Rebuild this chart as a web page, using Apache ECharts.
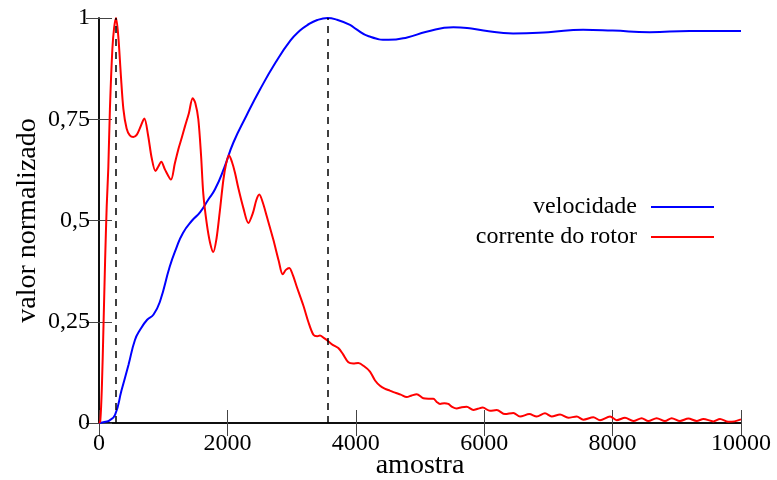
<!DOCTYPE html>
<html>
<head>
<meta charset="utf-8">
<script src="https://cdn.jsdelivr.net/npm/echarts@6/dist/echarts.min.js"></script>
<style>
  html, body { margin: 0; padding: 0; background: #fff; }
  #chart { width: 777px; height: 480px; }
</style>
</head>
<body>
<div id="chart"></div>
<script>
// Speed response (normalised) against sample index
const velSample = [0, 100, 160, 250, 350, 460, 560, 640, 750, 850, 950, 1100, 1200, 1310, 1450, 1573, 1703, 1807, 1950, 2092, 2300, 2510, 2750, 2980, 3130, 3240, 3400, 3562, 3700, 3910, 4000, 4200, 4510, 4800, 5100, 5520, 5800, 5990, 6450, 7000, 7540, 8000, 8580, 9200, 10000];
const velocidade = [0, 0.003, 0.006, 0.02, 0.08, 0.144, 0.205, 0.23, 0.255, 0.268, 0.3, 0.385, 0.43, 0.47, 0.5, 0.52, 0.552, 0.577, 0.63, 0.692, 0.76, 0.824, 0.89, 0.944, 0.969, 0.982, 0.995, 1.0, 0.996, 0.983, 0.973, 0.955, 0.946, 0.952, 0.966, 0.977, 0.974, 0.969, 0.962, 0.965, 0.971, 0.969, 0.965, 0.968, 0.968];

// Rotor current (normalised) against sample index
const corrSample = [0, 20, 45, 70, 95, 120, 145, 170, 208, 235, 265, 300, 340, 380, 430, 480, 535, 590, 640, 706, 765, 820, 880, 920, 970, 1030, 1121, 1180, 1236, 1290, 1340, 1400, 1459, 1500, 1547, 1590, 1625, 1677, 1730, 1780, 1830, 1880, 1937, 1980, 2025, 2070, 2118, 2170, 2250, 2326, 2400, 2450, 2497, 2550, 2612, 2715, 2800, 2861, 2910, 2964, 3020, 3079, 3183, 3260, 3339, 3400, 3442, 3500, 3562, 3640, 3728, 3800, 3884, 3960, 4039, 4130, 4221, 4300, 4377, 4450, 4530, 4611, 4700, 4793, 4870, 4949, 5052, 5130, 5208, 5260, 5312, 5380, 5441, 5500, 5571, 5650, 5727, 5831, 5900, 5977, 6090, 6195, 6324, 6454, 6558, 6703, 6818, 6947, 7051, 7181, 7310, 7441, 7544, 7700, 7804, 7960, 8064, 8193, 8323, 8453, 8556, 8686, 8816, 8920, 9050, 9180, 9310, 9414, 9570, 9673, 9803, 9900, 10000];
const corrente = [0, 0.005, 0.09, 0.24, 0.40, 0.535, 0.63, 0.775, 0.923, 0.975, 1.0, 0.956, 0.86, 0.775, 0.727, 0.71, 0.706, 0.712, 0.729, 0.752, 0.71, 0.655, 0.622, 0.632, 0.645, 0.625, 0.601, 0.64, 0.676, 0.705, 0.733, 0.765, 0.802, 0.79, 0.75, 0.66, 0.565, 0.494, 0.445, 0.422, 0.455, 0.52, 0.60, 0.64, 0.661, 0.645, 0.618, 0.58, 0.53, 0.494, 0.52, 0.55, 0.564, 0.545, 0.511, 0.453, 0.40, 0.367, 0.378, 0.383, 0.365, 0.337, 0.29, 0.25, 0.218, 0.214, 0.216, 0.21, 0.203, 0.193, 0.185, 0.17, 0.15, 0.147, 0.148, 0.14, 0.127, 0.105, 0.092, 0.085, 0.08, 0.075, 0.07, 0.064, 0.068, 0.071, 0.061, 0.06, 0.06, 0.052, 0.047, 0.049, 0.047, 0.04, 0.036, 0.039, 0.040, 0.032, 0.035, 0.038, 0.030, 0.032, 0.022, 0.025, 0.016, 0.022, 0.016, 0.024, 0.016, 0.021, 0.013, 0.016, 0.008, 0.014, 0.007, 0.016, 0.007, 0.013, 0.005, 0.012, 0.005, 0.012, 0.005, 0.012, 0.005, 0.011, 0.005, 0.010, 0.004, 0.010, 0.003, 0.004, 0.009];

// Samples where each curve reaches its maximum
const peakSamples = [265, 3562];

const xTicks = { min: 0, max: 10000, interval: 2000 };
const yTicks = { min: 0, max: 1, interval: 0.25 };

const FONT = 'Liberation Serif';
const pairs = (xs, ys) => xs.map((x, i) => [x, ys[i]]);

const frame = { show: true, lineStyle: { color: '#000', width: 1.5 } };
const ticks = { show: true, inside: true, length: 13, lineStyle: { color: '#444', width: 1 } };

const legendBase = {
  right: 63, orient: 'vertical', align: 'right', padding: 0,
  icon: 'rect', itemWidth: 63, itemHeight: 2,
  textStyle: { fontFamily: FONT, fontSize: 24, color: '#000', padding: [0, 9, 0, 0] }
};

const chart = echarts.init(document.getElementById('chart'), null, { renderer: 'canvas' });
chart.setOption({
  backgroundColor: '#fff',
  animation: false,
  grid: { left: 99, top: 18, right: 36, bottom: 57, containLabel: false, outerBoundsMode: 'none' },
  legend: [
    Object.assign({ data: ['velocidade'], top: 195 }, legendBase),
    Object.assign({ data: ['corrente do rotor'], top: 225 }, legendBase)
  ],
  xAxis: [
    {
      type: 'value', position: 'bottom', ...xTicks,
      name: 'amostra', nameLocation: 'middle', nameGap: 29, nameMoveOverlap: false,
      nameTextStyle: { fontFamily: FONT, fontSize: 28, color: '#000' },
      axisLine: frame, axisTick: ticks, splitLine: { show: false },
      axisLabel: { fontFamily: FONT, fontSize: 24, color: '#000', margin: 9, formatter: v => String(v) }
    },
    {
      type: 'value', position: 'top', ...xTicks,
      axisLine: frame, axisTick: ticks, splitLine: { show: false },
      axisLabel: { show: false }
    }
  ],
  yAxis: [
    {
      type: 'value', position: 'left', ...yTicks,
      name: 'valor normalizado', nameLocation: 'middle', nameGap: 57, nameMoveOverlap: false,
      nameTextStyle: { fontFamily: FONT, fontSize: 28, color: '#000' },
      axisLine: frame, axisTick: ticks, splitLine: { show: false },
      axisLabel: {
        fontFamily: FONT, fontSize: 24, color: '#000', margin: 9,
        formatter: v => String(v).replace('.', ',')
      }
    },
    {
      type: 'value', position: 'right', ...yTicks,
      axisLine: frame, axisTick: ticks, splitLine: { show: false },
      axisLabel: { show: false }
    }
  ],
  series: [
    {
      name: 'velocidade', type: 'line', xAxisIndex: 0, yAxisIndex: 0,
      data: pairs(velSample, velocidade),
      showSymbol: false, symbol: 'none', smooth: 0.5,
      lineStyle: { color: '#0000ff', width: 2 }, itemStyle: { color: '#0000ff' },
      markLine: {
        silent: true, symbol: 'none', label: { show: false },
        lineStyle: { color: '#000', type: [7, 6], width: 1.5 },
        data: peakSamples.map(x => ({ xAxis: x }))
      }
    },
    {
      name: 'corrente do rotor', type: 'line', xAxisIndex: 0, yAxisIndex: 0,
      data: pairs(corrSample, corrente),
      showSymbol: false, symbol: 'none', smooth: 0.3,
      lineStyle: { color: '#ff0000', width: 2 }, itemStyle: { color: '#ff0000' }
    }
  ]
});
</script>
</body>
</html>
